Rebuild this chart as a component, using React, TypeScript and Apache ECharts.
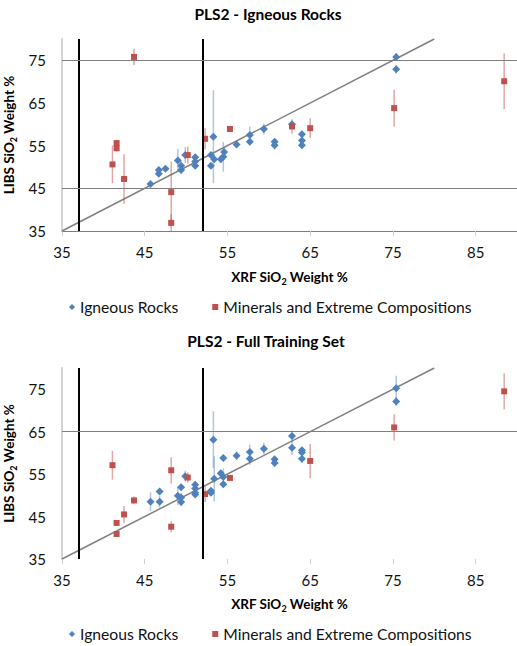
import React, { useEffect, useRef } from "react";
import * as echarts from "echarts";

const FONT = "Lato, 'Open Sans', sans-serif";

// ---------- Top chart: PLS2 - Igneous Rocks ----------
const topIgnX = [45.7, 46.7, 46.7, 47.5, 49.0, 49.4, 49.4, 49.9, 51.1, 51.1, 51.1, 53.0, 53.0, 53.3, 53.4, 54.2, 54.5, 54.6, 56.1, 57.7, 57.7, 59.4, 60.7, 60.7, 62.8, 64.0, 64.0, 64.0, 75.4, 75.4];
const topIgnY = [46.0, 48.4, 49.3, 49.6, 51.5, 50.3, 49.3, 52.8, 52.3, 51.3, 50.3, 50.3, 52.8, 57.1, 51.8, 51.8, 52.4, 53.5, 55.3, 55.9, 57.5, 58.9, 55.9, 55.1, 60.0, 57.7, 56.2, 55.1, 75.8, 72.9];
const topIgnErr = [0.8, 0.5, 0.5, 0.5, 2.7, 1.0, 0.8, 1.9, 0.7, 0.5, 0.6, 0.5, 0.6, 10.9, 0.6, 0.8, 3.5, 1.2, 0.8, 0.8, 2.0, 1.3, 0.7, 1.0, 0.8, 0.8, 0.6, 0.8, 0.9, 1.0];

const topMinX = [43.7, 41.6, 41.6, 41.1, 42.5, 48.2, 48.2, 50.2, 52.3, 55.3, 62.8, 65.0, 75.15, 88.45];
const topMinY = [75.8, 55.6, 54.4, 50.6, 47.2, 44.1, 36.9, 52.8, 56.6, 58.9, 59.5, 59.1, 63.8, 70.1];
const topMinErr = [1.9, 0.8, 0.8, 4.4, 5.8, 7.2, 2.0, 2.0, 2.5, 0.3, 1.7, 2.3, 4.3, 6.5];

// ---------- Bottom chart: PLS2 - Full Training Set ----------
const botIgnX = [45.7, 46.8, 46.8, 49.0, 49.4, 49.4, 49.4, 49.9, 51.1, 51.1, 51.1, 51.1, 53.0, 53.0, 53.3, 53.4, 54.2, 54.5, 54.5, 54.5, 56.1, 57.7, 57.7, 59.4, 60.7, 60.7, 62.8, 62.8, 64.0, 64.0, 64.0, 75.4, 75.4];
const botIgnY = [48.5, 48.5, 50.9, 49.9, 51.9, 49.5, 48.4, 54.5, 52.5, 51.6, 50.6, 50.2, 51.1, 50.6, 63.1, 53.9, 55.2, 54.3, 52.6, 58.8, 59.3, 60.2, 58.6, 61.0, 58.5, 57.6, 64.0, 61.2, 60.6, 60.1, 58.6, 75.2, 72.1];
const botIgnErr = [2.2, 1.4, 0.8, 2.2, 0.8, 1.0, 1.0, 1.3, 0.8, 0.6, 0.6, 0.6, 0.6, 0.6, 6.7, 5.3, 0.6, 2.0, 0.8, 0.7, 1.0, 1.8, 1.4, 1.4, 0.6, 0.8, 1.3, 1.7, 0.7, 0.6, 1.0, 3.0, 1.0];

const botMinX = [43.7, 41.1, 41.6, 41.6, 42.5, 48.2, 48.2, 50.2, 52.3, 55.3, 65.0, 75.15, 88.45];
const botMinY = [48.8, 57.1, 43.5, 40.9, 45.5, 55.9, 42.6, 54.2, 50.3, 54.1, 58.1, 66.0, 74.5];
const botMinErr = [0.9, 3.4, 0.5, 0.7, 2.0, 3.1, 1.3, 1.2, 1.9, 0.5, 4.0, 3.1, 4.2];

// Reference lines
const vLines = [37, 52];
const topHLines = [45, 75];
const botHLines = [65];
const oneToOne = [35, 80];

const titles = ["PLS2 - Igneous Rocks", "PLS2 - Full Training Set"];
const seriesNames = ["Igneous Rocks", "Minerals and Extreme Compositions"];

const BLUE = "#4f81bd";
const RED = "#c0504d";
const BLUE_ERR = "rgba(79,129,189,0.45)";
const RED_ERR = "rgba(192,80,77,0.5)";

function zip(xs: number[], ys: number[], es?: number[]) {
  return xs.map((x, i) => (es ? [x, ys[i], es[i]] : [x, ys[i]]));
}

function errSeries(idx: number, data: number[][], color: string) {
  return {
    type: "custom",
    xAxisIndex: idx,
    yAxisIndex: idx,
    clip: true,
    silent: true,
    z: 3,
    encode: { x: 0, y: 1 },
    data,
    renderItem: (_p: any, api: any) => {
      const x = api.value(0);
      const y = api.value(1);
      const e = api.value(2);
      const a = api.coord([x, y - e]);
      const b = api.coord([x, y + e]);
      return {
        type: "line",
        shape: { x1: a[0], y1: a[1], x2: b[0], y2: b[1] },
        style: { stroke: color, lineWidth: 1.5 },
      };
    },
  };
}

function refSeries(idx: number, hLines: number[]) {
  return {
    type: "line",
    xAxisIndex: idx,
    yAxisIndex: idx,
    data: [
      [oneToOne[0], oneToOne[0]],
      [oneToOne[1], oneToOne[1]],
    ],
    symbol: "none",
    silent: true,
    z: 2,
    lineStyle: { color: "#808080", width: 1.5 },
    markLine: {
      silent: true,
      symbol: "none",
      label: { show: false },
      animation: false,
      data: [
        ...vLines.map((v) => ({ xAxis: v, lineStyle: { color: "#000", width: 2, type: "solid" } })),
        ...hLines.map((v) => ({ yAxis: v, lineStyle: { color: "#7f7f7f", width: 1, type: "solid" } })),
      ],
    },
  };
}

const subRich = {
  s: { fontSize: 9, fontWeight: "bold", fontFamily: FONT, color: "#000", verticalAlign: "bottom", lineHeight: 18 },
  n: { fontSize: 13.5, fontWeight: "bold", fontFamily: FONT, color: "#000", lineHeight: 18 },
};

function xAxis(idx: number, showLine: boolean) {
  return {
    type: "value",
    gridIndex: idx,
    min: 35,
    max: 90,
    interval: 10,
    name: "{n|XRF SiO}{s|2}{n| Weight %}",
    nameLocation: "middle",
    nameGap: idx === 0 ? 37 : 36,
    nameTextStyle: { rich: subRich, lineHeight: 18 },
    axisLine: { show: showLine, onZero: false, lineStyle: { color: "#7f7f7f", width: 1 } },
    axisTick: { show: true, length: 5, lineStyle: { color: "#d0d0d0", width: 1 } },
    axisLabel: {
      showMaxLabel: false,
      fontSize: 15,
      fontFamily: FONT,
      color: "#111",
      margin: 13,
    },
    splitLine: { show: false },
  };
}

function yAxis(idx: number) {
  return {
    type: "value",
    gridIndex: idx,
    min: 35,
    max: 80,
    interval: 10,
    name: "{n|LIBS SiO}{s|2}{n| Weight %}",
    nameLocation: "middle",
    nameGap: 38,
    nameRotate: 90,
    nameTextStyle: { rich: subRich, lineHeight: 18 },
    axisLine: { show: true, onZero: false, lineStyle: { color: "#d4d4d4", width: 2 } },
    axisTick: { show: false },
    axisLabel: {
      showMaxLabel: false,
      fontSize: 15,
      fontFamily: FONT,
      color: "#111",
      margin: 16,
    },
    splitLine: { show: false },
  };
}

function scatter(idx: number, name: string, data: number[][], color: string, symbol: string, size: number) {
  return {
    type: "scatter",
    name,
    xAxisIndex: idx,
    yAxisIndex: idx,
    data,
    symbol,
    symbolSize: size,
    z: 4,
    itemStyle: { color, opacity: 1 },
  };
}

function legend(top: number) {
  return {
    top,
    left: 64,
    itemWidth: 6,
    itemHeight: 6,
    itemGap: 34,
    selectedMode: false,
    textStyle: { fontSize: 15.7, fontFamily: FONT, color: "#111" },
    data: [
      { name: seriesNames[0], icon: "diamond" },
      { name: seriesNames[1], icon: "rect" },
    ],
  };
}

export default function App() {
  const ref = useRef<HTMLDivElement>(null);

  useEffect(() => {
    if (!ref.current) return;
    const chart = echarts.init(ref.current, null, { renderer: "svg" });
    chart.setOption({
      animation: false,
      backgroundColor: "#fff",
      title: [
        {
          text: titles[0],
          left: 263,
          top: 1,
          textAlign: "center",
          textStyle: { fontSize: 15.5, fontWeight: "bold", fontFamily: FONT, color: "#000" },
        },
        {
          text: titles[1],
          left: 261,
          top: 328,
          textAlign: "center",
          textStyle: { fontSize: 15.5, fontWeight: "bold", fontFamily: FONT, color: "#000" },
        },
      ],
      legend: [legend(294), legend(621)],
      grid: [
        { left: 62, top: 39, width: 455, height: 192, containLabel: false, outerBoundsMode: "none" },
        { left: 62, top: 368, width: 455, height: 191, containLabel: false, outerBoundsMode: "none" },
      ],
      xAxis: [xAxis(0, true), xAxis(1, false)],
      yAxis: [yAxis(0), yAxis(1)],
      series: [
        refSeries(0, topHLines),
        errSeries(0, zip(topIgnX, topIgnY, topIgnErr), BLUE_ERR),
        errSeries(0, zip(topMinX, topMinY, topMinErr), RED_ERR),
        scatter(0, seriesNames[0], zip(topIgnX, topIgnY), BLUE, "diamond", 8),
        scatter(0, seriesNames[1], zip(topMinX, topMinY), RED, "rect", 6),
        refSeries(1, botHLines),
        errSeries(1, zip(botIgnX, botIgnY, botIgnErr), BLUE_ERR),
        errSeries(1, zip(botMinX, botMinY, botMinErr), RED_ERR),
        scatter(1, seriesNames[0], zip(botIgnX, botIgnY), BLUE, "diamond", 8),
        scatter(1, seriesNames[1], zip(botMinX, botMinY), RED, "rect", 6),
      ],
    });
    return () => chart.dispose();
  }, []);

  return (
    <div
      ref={ref}
      style={{ position: "absolute", left: 0, top: 0, width: 517, height: 646 }}
    />
  );
}
